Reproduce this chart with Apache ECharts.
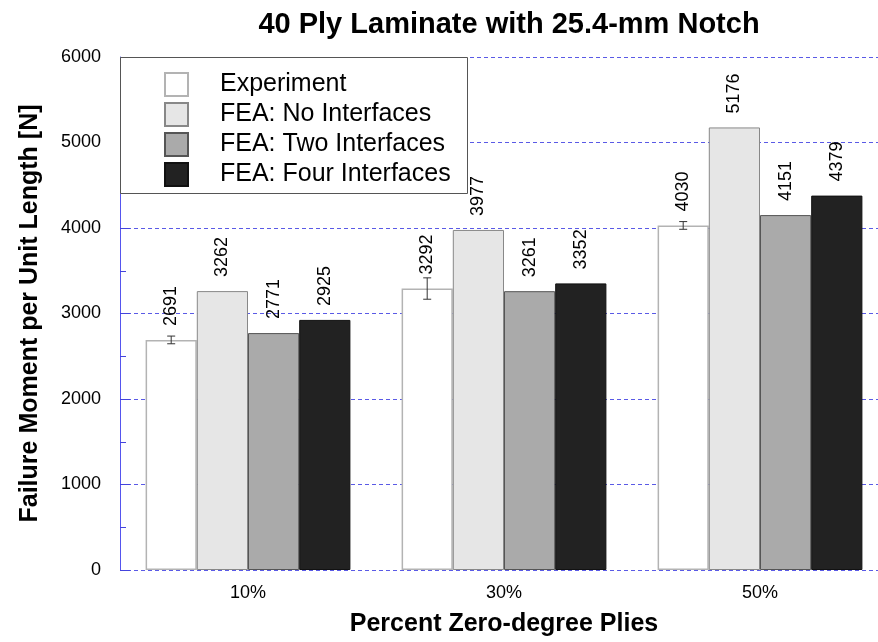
<!DOCTYPE html>
<html><head><meta charset="utf-8">
<script src="https://cdn.jsdelivr.net/npm/echarts@6/dist/echarts.min.js"></script>
<style>html,body{margin:0;padding:0;background:#fff;overflow:hidden}#c{width:878px;height:642px}</style>
</head><body><div id="c"></div>
<script>
const categories = ['10%', '30%', '50%'];
const experiment = [2691, 3292, 4030];
const experimentErr = [45, 125, 45];
const noInterfaces = [3262, 3977, 5176];
const twoInterfaces = [2771, 3261, 4151];
const fourInterfaces = [2925, 3352, 4379];
const seriesNames = ['Experiment', 'FEA: No Interfaces', 'FEA: Two Interfaces', 'FEA: Four Interfaces'];
const yTicks = [0, 1000, 2000, 3000, 4000, 5000, 6000];

const FONT = '"Liberation Sans", Arial, Helvetica, sans-serif';
const chart = echarts.init(document.getElementById('c'), null, {renderer: 'canvas'});

const labelCfg = {
  show: true, position: 'top', rotate: 90, align: 'left', verticalAlign: 'middle',
  distance: 14, fontSize: 18, color: '#000', fontFamily: FONT
};
function barSeries(name, data, fill, border, bw) {
  return {
    name, type: 'bar', data, barGap: '0%', barCategoryGap: '20%',
    itemStyle: {color: fill, borderColor: border, borderWidth: bw},
    label: labelCfg, z: 3
  };
}

const option = {
  animation: false,
  backgroundColor: '#fff',
  title: {
    text: '40 Ply Laminate with 25.4-mm Notch', left: 504, top: 5, textAlign: 'center',
    textStyle: {fontFamily: FONT, fontSize: 29, fontWeight: 'bold', color: '#000'}
  },
  grid: {left: 120, top: 57, width: 768, height: 513, containLabel: false, outerBoundsMode: 'none'},
  legend: {
    orient: 'vertical', left: 164, top: 72, itemWidth: 23, itemHeight: 23, itemGap: 5,
    icon: 'rect',
    data: seriesNames, selectedMode: false, padding: 0, z: 20,
    textStyle: {fontFamily: FONT, fontSize: 25, lineHeight: 23, color: '#000', padding: [0, 0, 0, 27]}
  },
  graphic: [{
    type: 'rect', left: 120, top: 57, z: 15,
    shape: {width: 347, height: 136},
    style: {fill: '#fff', stroke: '#555', lineWidth: 1}
  }],
  xAxis: {
    type: 'category', data: categories,
    axisLine: {show: false}, axisTick: {show: false},
    axisLabel: {fontFamily: FONT, fontSize: 18, color: '#000', margin: 14},
    name: 'Percent Zero-degree Plies', nameLocation: 'middle', nameGap: 42,
    nameTextStyle: {fontFamily: FONT, fontSize: 25, fontWeight: 'bold', color: '#000'}
  },
  yAxis: {
    type: 'value', min: 0, max: 6000, interval: 1000,
    axisLine: {show: true, lineStyle: {color: '#5555ee', width: 1}},
    axisTick: {show: true, inside: true, length: 10, lineStyle: {color: '#4444dd'}},
    minorTick: {show: true, splitNumber: 2, length: 6, lineStyle: {color: '#4444dd'}},
    axisLabel: {fontFamily: FONT, fontSize: 18, color: '#000', margin: 19,
      formatter: v => yTicks.includes(v) ? String(v) : ''},
    splitLine: {show: true, lineStyle: {color: '#5a5ae6', type: [4, 3], width: 1}},
    name: 'Failure Moment per Unit Length [N]', nameLocation: 'middle', nameGap: 77,
    nameTextStyle: {fontFamily: FONT, fontSize: 25, fontWeight: 'bold', color: '#000'}
  },
  series: [
    barSeries(seriesNames[0], experiment, '#ffffff', '#b3b3b3', 1.5),
    barSeries(seriesNames[1], noInterfaces, '#e6e6e6', '#888888', 1),
    barSeries(seriesNames[2], twoInterfaces, '#aaaaaa', '#555555', 1),
    barSeries(seriesNames[3], fourInterfaces, '#222222', '#111111', 1),
    {
      type: 'custom', name: 'err', z: 5, silent: true,
      data: experiment.map((v, i) => [i, v - experimentErr[i], v + experimentErr[i]]),
      renderItem: function (params, api) {
        const ci = api.value(0);
        const lo = api.coord([ci, api.value(1)]);
        const hi = api.coord([ci, api.value(2)]);
        const catW = api.size([1, 0])[0];
        const bw = catW * 0.8 / 4;
        const x = lo[0] - 1.5 * bw;
        const cap = 4;
        const st = {stroke: '#333', lineWidth: 1, fill: null};
        return {type: 'group', children: [
          {type: 'line', shape: {x1: x, y1: lo[1], x2: x, y2: hi[1]}, style: st},
          {type: 'line', shape: {x1: x - cap, y1: lo[1], x2: x + cap, y2: lo[1]}, style: st},
          {type: 'line', shape: {x1: x - cap, y1: hi[1], x2: x + cap, y2: hi[1]}, style: st}
        ]};
      }
    }
  ]
};
chart.setOption(option);
</script></body></html>
